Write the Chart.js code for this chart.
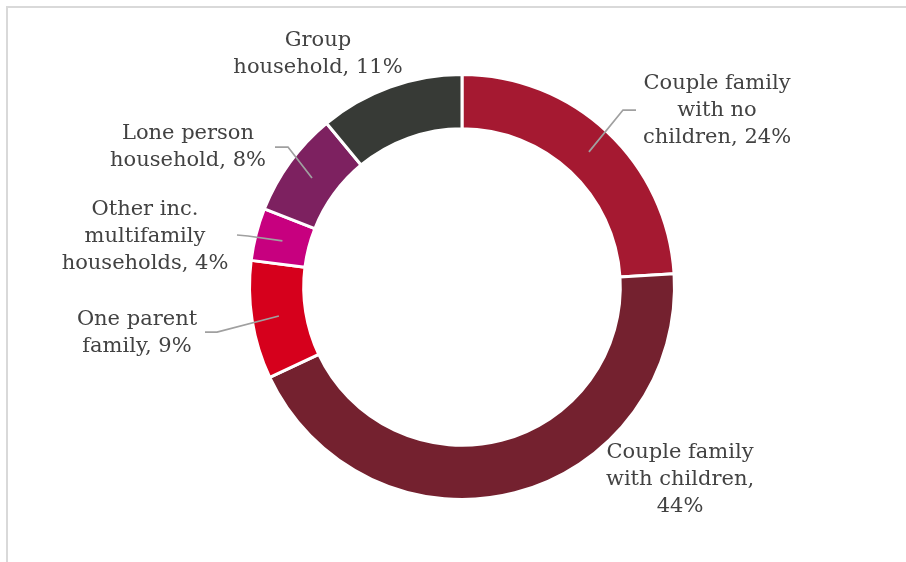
<!DOCTYPE html>
<html>
<head>
<meta charset="utf-8">
<script src="https://cdn.jsdelivr.net/npm/chart.js@4.4.1/dist/chart.umd.min.js"></script>
<style>
  html, body { margin: 0; padding: 0; background: #fff; }
  #wrap { position: relative; width: 906px; height: 562px; overflow: hidden; }
  #frame { position: absolute; left: 6px; top: 6px; width: 940px; height: 600px;
           border-top: 2px solid #d9d9d9; border-left: 2px solid #d9d9d9; }
  #c { position: absolute; left: 0; top: 0; }
</style>
</head>
<body>
<div id="wrap">
  <div id="frame"></div>
  <canvas id="c" width="906" height="562"></canvas>
</div>
<script>
// Household composition, share of households (%)
const categories = [
  'Couple family\nwith no\nchildren',
  'Couple family\nwith children',
  'One parent\nfamily',
  'Other inc.\nmultifamily\nhouseholds',
  'Lone person\nhousehold',
  'Group\nhousehold'
];
const shares = [24, 44, 9, 4, 8, 11];
// put the percentage on a line of its own after the name
const valueOnOwnLine = [false, true, false, false, false, false];

const sliceColors = ['#a51931', '#74212f', '#d6001c', '#c7007f', '#7d2160', '#373a36'];

// label placement, relative to the ring centre: text block centre,
// plus the elbow and end of the leader line (null = no leader)
const labelLayout = [
  { text: [255, -176], elbow: [161, -177], end: [174, -177] },
  { text: [218, 193],  elbow: null, end: null },
  { text: [-325, 46],  elbow: [-245, 45], end: [-257, 45] },
  { text: [-317, -50], elbow: [-214, -51], end: [-225, -52] },
  { text: [-274, -140], elbow: [-174, -140], end: [-187, -140] },
  { text: [-144, -233], elbow: null, end: null }
];

const FONT = '21px "DejaVu Serif", Georgia, serif';
const LINE_H = 27;

function labelText(i) {
  const lines = categories[i].split('\n');
  if (valueOnOwnLine[i]) {
    lines[lines.length - 1] += ',';
    lines.push(shares[i] + '%');
  } else {
    lines[lines.length - 1] += ', ' + shares[i] + '%';
  }
  return lines;
}

const sliceLabels = {
  id: 'sliceLabels',
  afterDatasetsDraw(chart) {
    const ctx = chart.ctx;
    const meta = chart.getDatasetMeta(0);
    const first = meta.data[0];
    const cx = first.x, cy = first.y;
    ctx.save();
    meta.data.forEach((arc, i) => {
      const lay = labelLayout[i];
      if (lay.elbow) {
        const p = arc.getCenterPoint();
        ctx.beginPath();
        ctx.moveTo(p.x, p.y);
        ctx.lineTo(cx + lay.elbow[0], cy + lay.elbow[1]);
        ctx.lineTo(cx + lay.end[0], cy + lay.end[1]);
        ctx.strokeStyle = '#a0a0a0';
        ctx.lineWidth = 1.75;
        ctx.stroke();
      }
      const lines = labelText(i);
      ctx.font = FONT;
      ctx.fillStyle = '#424242';
      ctx.textAlign = 'center';
      ctx.textBaseline = 'middle';
      const top = cy + lay.text[1] - (lines.length - 1) * LINE_H / 2;
      lines.forEach((t, k) => ctx.fillText(t, cx + lay.text[0], top + k * LINE_H));
    });
    ctx.restore();
  }
};

new Chart(document.getElementById('c'), {
  type: 'doughnut',
  data: {
    labels: categories.map(c => c.replace(/\n/g, ' ')),
    datasets: [{
      data: shares,
      backgroundColor: sliceColors,
      borderColor: '#ffffff',
      borderWidth: 3
    }]
  },
  options: {
    responsive: false,
    animation: false,
    cutout: '74.5%',
    layout: { padding: { left: 248, right: 230, top: 73, bottom: 61 } },
    plugins: { legend: { display: false }, tooltip: { enabled: false } }
  },
  plugins: [sliceLabels]
});
</script>
</body>
</html>
